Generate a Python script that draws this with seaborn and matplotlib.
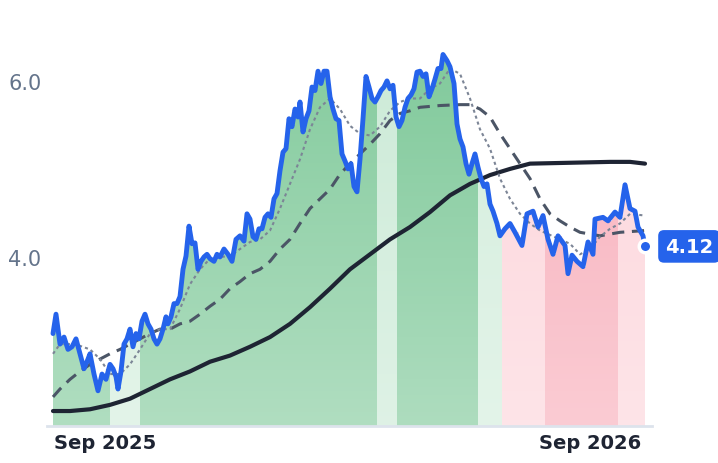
import matplotlib
matplotlib.use("Agg")
import matplotlib.pyplot as plt
import seaborn as sns
import numpy as np
from matplotlib.patches import Rectangle

sns.set_theme(style="white")
plt.rcParams['font.family'] = ['DejaVu Sans']

# time index (arbitrary units), price
t = [53,56,60,64,68,72,76,80,84,88,90,94,98,102,106,110,113,116,118,121,124,127,130,133,136,139,142,145,148,151,154,157,160,163,166,168,171,174,177,180,183,186,189,192,195,198,201,204,207,210,214,217,220,224,228,232,236,240,244,247,250,253,256,259,262,265,268,271,274,277,280,283,286,289,292,295,298,300,303,306,309,312,315,318,321,324,327,330,333,336,339,342,345,348,351,354,357,360,363,366,369,372,375,378,381,384,387,390,393,396,399,402,405,408,411,414,417,420,423,426,429,432,435,438,441,443,447,450,454,457,460,463,466,469,472,475,478,481,484,487,490,493,497,500,505,510,515,522,527,533,538,543,548,553,558,565,568,572,577,583,588,593,595,603,608,615,620,625,630,635,638,643,645]
price = [3.13,3.35,3.01,3.09,2.95,2.98,3.07,2.90,2.73,2.84,2.90,2.67,2.48,2.67,2.61,2.78,2.73,2.64,2.50,2.70,3.01,3.07,3.18,2.98,3.13,3.07,3.27,3.35,3.24,3.18,3.07,3.01,3.07,3.18,3.32,3.24,3.32,3.47,3.47,3.55,3.86,4.01,4.35,4.15,4.16,3.86,3.95,4.00,4.03,3.98,3.95,4.03,4.00,4.09,4.03,3.95,4.20,4.24,4.18,4.49,4.43,4.23,4.20,4.32,4.32,4.45,4.49,4.45,4.66,4.72,4.98,5.19,5.23,5.57,5.48,5.68,5.59,5.76,5.42,5.57,5.66,5.93,5.89,6.11,5.97,6.11,6.11,5.82,5.68,5.57,5.55,5.17,5.09,5.00,5.06,4.80,4.74,5.11,5.57,6.05,5.93,5.80,5.76,5.82,5.89,5.93,6.00,5.91,5.95,5.59,5.48,5.55,5.70,5.80,5.84,5.91,6.10,6.11,6.05,6.08,5.82,5.91,6.02,6.14,6.14,6.30,6.23,6.16,5.97,5.51,5.34,5.25,5.06,4.94,5.06,5.17,5.02,4.89,4.80,4.83,4.60,4.52,4.38,4.24,4.32,4.38,4.28,4.13,4.49,4.52,4.34,4.47,4.20,4.03,4.24,4.13,3.81,4.02,3.95,3.89,4.17,4.03,4.43,4.45,4.41,4.51,4.45,4.82,4.55,4.52,4.34,4.24,4.12]

ma_short_t = [53,60,75,90,100,110,120,130,140,150,160,170,180,190,200,210,220,230,240,250,260,270,280,290,300,310,320,330,340,350,360,370,380,390,400,410,420,430,440,450,460,470,480,490,500,510,520,530,540,550,560,570,580,590,600,610,620,630,645]
ma_short = [2.90,3.01,3.01,2.95,2.84,2.67,2.67,2.78,2.95,3.13,3.18,3.18,3.41,3.69,3.86,3.98,4.00,4.01,4.09,4.17,4.20,4.30,4.55,4.83,5.11,5.45,5.70,5.80,5.68,5.49,5.40,5.38,5.48,5.66,5.76,5.80,5.80,5.91,5.97,6.14,6.08,5.80,5.45,5.23,4.89,4.66,4.49,4.38,4.30,4.25,4.20,4.15,4.03,4.09,4.23,4.32,4.38,4.49,4.47]

ma_mid_t = [53,60,70,80,90,100,110,120,130,140,150,160,170,180,190,200,210,220,230,240,250,260,270,280,290,300,310,320,330,340,350,360,370,380,390,400,410,420,440,460,470,480,490,500,510,520,530,540,550,560,570,580,590,600,620,645]
ma_mid = [2.41,2.50,2.61,2.70,2.78,2.84,2.90,2.95,3.01,3.07,3.13,3.18,3.18,3.24,3.27,3.35,3.44,3.52,3.64,3.72,3.81,3.86,3.95,4.09,4.20,4.38,4.55,4.66,4.77,4.94,5.06,5.17,5.28,5.40,5.55,5.63,5.66,5.70,5.72,5.73,5.73,5.68,5.59,5.40,5.23,5.06,4.89,4.66,4.49,4.41,4.34,4.28,4.26,4.24,4.28,4.30]

ma_long_t = [53,70,90,110,130,150,170,190,210,230,250,270,290,310,330,350,370,390,410,430,450,470,490,510,530,570,610,630,645]
ma_long = [2.25,2.25,2.27,2.32,2.39,2.50,2.61,2.70,2.81,2.88,2.98,3.09,3.24,3.43,3.64,3.86,4.03,4.20,4.34,4.51,4.70,4.83,4.93,5.00,5.06,5.07,5.08,5.08,5.06]

band_edges = [53,110,140,377,397,478,502,545,618,645]
band_colors = ["#86cc9f","#d4eedd","#86cc9f","#cdebd8","#82ca9c","#d4eedd","#fdd6dc","#f8b0bc","#fdd6dc"]

tick_pos = [105, 590]
tick_labels = ["Sep 2025", "Sep 2026"]

fig = plt.figure(figsize=(7.18, 4.64), dpi=100)
ax = fig.add_axes([47/718, 37/464, 605/718, 427/464])
ymin, ymax = 2.08, 6.93
for i, c in enumerate(band_colors):
    a, b = band_edges[i], band_edges[i+1]
    poly = ax.fill_between(t, ymin, price, step="mid", color=c, lw=0, zorder=1)
    poly.set_clip_path(Rectangle((a, ymin), b - a, 10, transform=ax.transData))

# white vertical gradient overlay (lighter towards bottom)
grad = np.zeros((256, 1, 4))
grad[..., :3] = 1.0
grad[:, 0, 3] = np.linspace(0.35, 0.0, 256)
ax.imshow(grad, extent=[47, 652, ymin, 6.3], origin="lower", aspect="auto", zorder=2, interpolation="bilinear")

ax.plot(ma_long_t, ma_long, color="#1e2433", lw=3, zorder=3, solid_capstyle="round")
ax.plot(ma_mid_t, ma_mid, color="#4b5566", lw=2.2, ls=(0, (4, 2.5)), zorder=3)
ax.plot(ma_short_t, ma_short, color="#7c8596", lw=1.5, ls=(0, (1.5, 1.5)), zorder=3)
sns.lineplot(x=t, y=price, color="#2563eb", lw=3.5, ax=ax, zorder=4)
ax.plot([t[-1]], [price[-1]], "o", ms=9, color="#2563eb", mec="white", mew=2.5, zorder=5, clip_on=False)
ax.text(665, price[-1], f"{price[-1]:.2f}", color="white", fontsize=14, fontweight="bold",
        va="center", ha="left", zorder=6,
        bbox=dict(boxstyle="round,pad=0.35,rounding_size=0.3", fc="#2563eb", ec="none"))

ax.set_xlim(47, 652)
ax.set_ylim(ymin, ymax)
ax.set_yticks([4.0, 6.0])
ax.set_yticklabels(["4.0", "6.0"], color="#64748b", fontsize=15)
ax.set_xticks(tick_pos)
ax.set_xticklabels(tick_labels, color="#1e2433", fontsize=14, fontweight="bold")
ax.tick_params(length=0, pad=5)
ax.tick_params(axis="y", pad=4)
for s in ["top", "right", "left"]:
    ax.spines[s].set_visible(False)
ax.spines["bottom"].set_color("#dde3ec")
ax.spines["bottom"].set_linewidth(2)
ax.set_xlabel(""); ax.set_ylabel("")
ax.grid(False)
fig.savefig("out.png", dpi=100)
